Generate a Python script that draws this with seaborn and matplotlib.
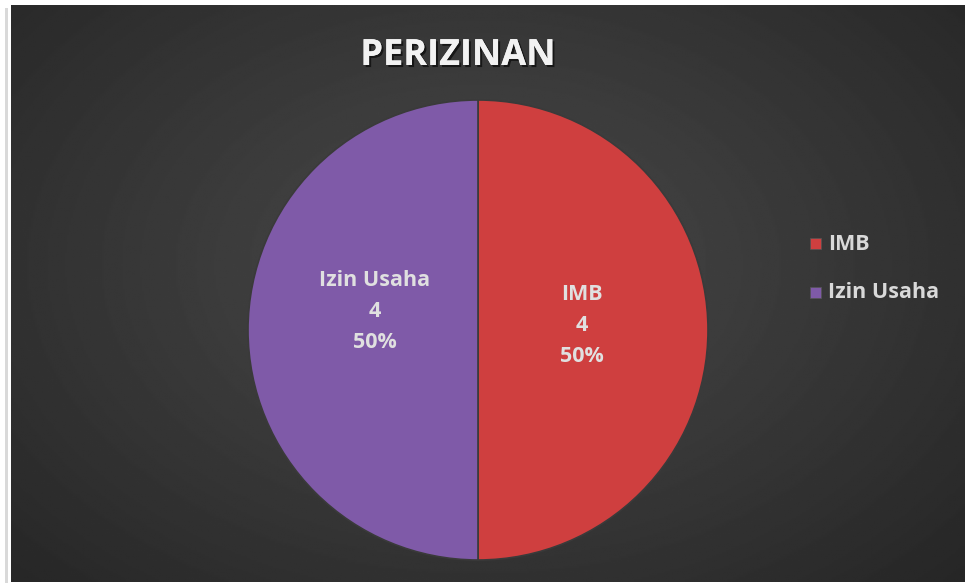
import numpy as np
import matplotlib
matplotlib.use("Agg")
import matplotlib.pyplot as plt
import matplotlib.patheffects as pe
from matplotlib.patches import Rectangle
import seaborn as sns

# data
categories = ["IMB", "Izin Usaha"]
values = [4, 4]
colors = ["#cf3f3f", "#7f5aa8"]
title = "PERIZINAN"

sns.set_style("dark")
plt.rcParams["font.family"] = ["Open Sans", "DejaVu Sans"]

W, H = 965, 583
fig = plt.figure(figsize=(W / 100, H / 100), dpi=100, facecolor="white")

# dark chart area with radial gradient
bg = fig.add_axes([11 / W, 1 / H, (W - 11) / W, (H - 6) / H])
yy, xx = np.mgrid[0:1:300j, 0:1:500j]
d = np.sqrt(((xx - 0.49) / 0.75) ** 2 + ((yy - 0.45) / 0.85) ** 2)
shade = np.clip(1 - d, 0, 1)
grad = 0.14 + 0.15 * shade
bg.imshow(grad, cmap="gray", vmin=0, vmax=1, aspect="auto", extent=[0, 1, 0, 1], origin="upper")
bg.set_axis_off()

# thin gray line on the left
fig.patches.append(Rectangle((5 / W, 0), 3 / W, (H - 8) / H, transform=fig.transFigure,
                             facecolor="#d9d9d9", edgecolor="none"))

# pie
cx, cy, r = 478, 330, 230
ax = fig.add_axes([(cx - r) / W, (H - cy - r) / H, 2 * r / W, 2 * r / H])
ax.set_facecolor("none")
wedges, _ = ax.pie(values, colors=colors, startangle=90, counterclock=False,
                   wedgeprops=dict(edgecolor="#3a3a3a", linewidth=1.2))

# subtle vertical shading on wedges
shade_img = np.linspace(0, 1, 200).reshape(-1, 1)
for w in wedges:
    im = ax.imshow(shade_img, cmap="Greys", vmin=-0.5, vmax=3.5, alpha=0.35,
                   extent=[-1, 1, -1, 1], aspect="auto", origin="upper")
    im.set_clip_path(w)
ax.set_xlim(-1.0, 1.0)
ax.set_ylim(-1.0, 1.0)
ax.set_aspect("equal")
ax.axis("off")

total = sum(values)
offsets = [0.02, 0.08]
for w, lab, v, off in zip(wedges, categories, values, offsets):
    ang = np.deg2rad((w.theta1 + w.theta2) / 2)
    x, y = 0.45 * np.cos(ang), 0.45 * np.sin(ang) + off
    ax.text(x, y, f"{lab}\n{v}\n{v / total:.0%}", ha="center", va="center",
            fontsize=15.5, fontweight="bold", color="#e0e0e0", linespacing=1.6)

fig.text(458 / W, 1 - 56 / H, title, ha="center", va="center", fontsize=26,
         fontweight="bold", color="#f2f2f2",
         path_effects=[pe.withSimplePatchShadow(offset=(1.5, -1.5), shadow_rgbFace="black", alpha=0.6),
                       pe.Normal()])

# legend
for i, (lab, c) in enumerate(zip(categories, colors)):
    ly = 1 - (244 + 49 * i) / H
    fig.patches.append(Rectangle((810 / W, ly - 5 / H), 11 / W, 11 / H, transform=fig.transFigure,
                                 facecolor=c, edgecolor="#555555", linewidth=0.5))
    fig.text(828 / W, ly, lab, ha="left", va="center", fontsize=15.5,
             fontweight="bold", color="#d9d9d9")

fig.savefig("out.png", dpi=100, facecolor="white")
